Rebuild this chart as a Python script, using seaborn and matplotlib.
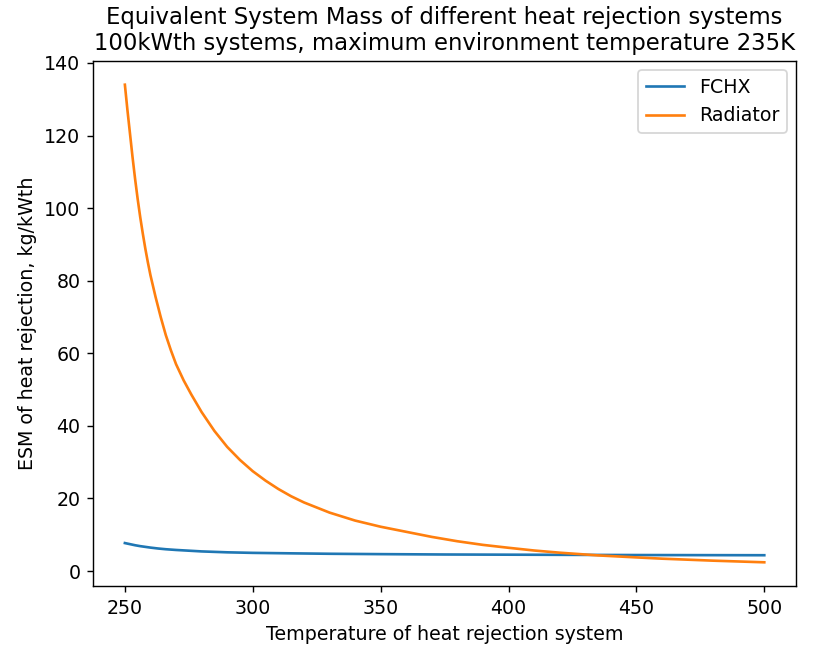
import pandas as pd
import matplotlib
matplotlib.use("Agg")
import matplotlib.pyplot as plt
import seaborn as sns

# values
fchx_temp = [250, 252, 254, 256, 258, 260, 263, 266, 270, 275, 280, 290, 300, 315,
             330, 350, 375, 400, 450, 500]
fchx_esm = [7.7, 7.4, 7.1, 6.85, 6.65, 6.45, 6.2, 6.0, 5.8, 5.6, 5.4, 5.15, 5.0, 4.87,
            4.75, 4.65, 4.55, 4.5, 4.4, 4.35]

rad_temp = [250, 251, 252, 253, 254, 255, 256, 257, 258, 259, 260, 262, 264, 266, 268,
            270, 273, 276, 280, 285, 290, 295, 300, 305, 310, 315, 320, 330, 340, 350,
            360, 370, 380, 390, 400, 410, 420, 435, 450, 460, 480, 500]
rad_esm = [134, 127, 120.5, 114, 108, 102.5, 97.5, 93, 88.8, 85, 81.5, 75.5, 70, 65,
           60.8, 57, 52.5, 48.6, 43.8, 38.6, 34.2, 30.6, 27.5, 24.9, 22.6, 20.6, 18.9,
           16.1, 13.9, 12.2, 10.8, 9.4, 8.2, 7.2, 6.4, 5.65, 5.05, 4.3, 3.75, 3.4, 2.85, 2.4]

fchx = pd.DataFrame({'temp': fchx_temp, 'esm': fchx_esm})
rad = pd.DataFrame({'temp': rad_temp, 'esm': rad_esm})

plt.rcParams['font.size'] = 10.75

fig, ax = plt.subplots(figsize=(815 / 127, 647 / 127), dpi=127)
sns.lineplot(data=fchx, x='temp', y='esm', ax=ax, color='#1f77b4', label='FCHX')
sns.lineplot(data=rad, x='temp', y='esm', ax=ax, color='#ff7f0e', label='Radiator')

ax.set_title('Equivalent System Mass of different heat rejection systems\n'
             '100kWth systems, maximum environment temperature 235K')
ax.set_xlabel('Temperature of heat rejection system')
ax.set_ylabel('ESM of heat rejection, kg/kWth')
ax.set_yticks([0, 20, 40, 60, 80, 100, 120, 140])
ax.legend(loc='upper right')

fig.subplots_adjust(left=0.114, right=0.977, top=0.906, bottom=0.094)
fig.savefig('out.png', dpi=127)
